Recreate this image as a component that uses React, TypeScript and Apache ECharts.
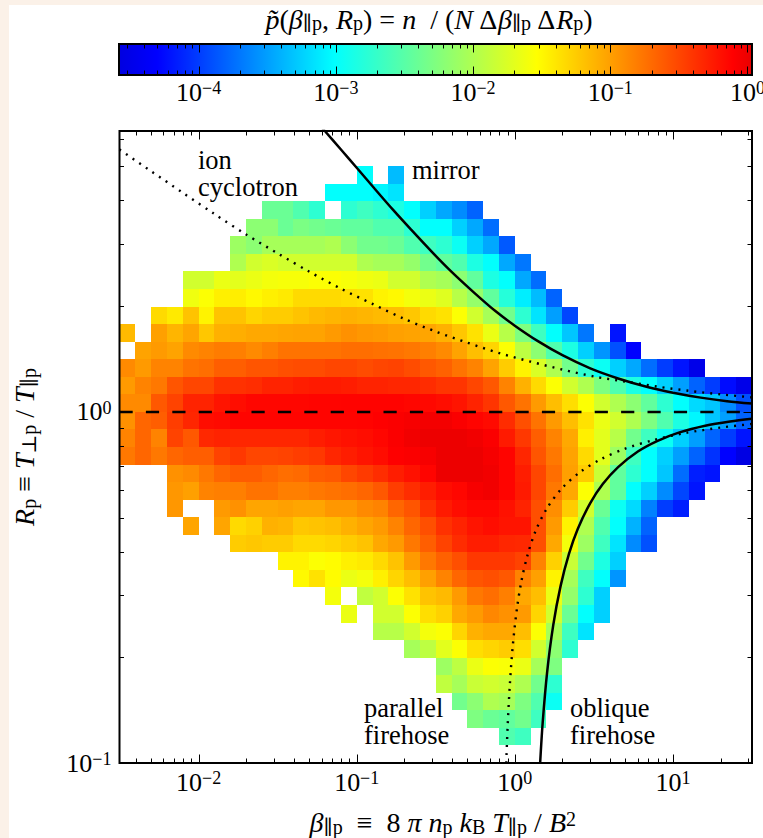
import React, { useEffect, useRef } from "react";
import * as echarts from "echarts";

// Histogram bins: 40 columns of 0.1 dex in beta, 36 rows of 0.05 dex in R (row 0 is the top one)
const betaLogEdgeStart = -2.5;
const betaBinDex = 0.1;
const ratioLogTop = 0.8;
const ratioBinDex = 0.05;
const betaRange = [Math.pow(10, -2.5), Math.pow(10, 1.5)];
const ratioRange = [0.1, Math.pow(10, 0.8)];
const colorbarRange = [Math.pow(10, -4.58), Math.pow(10, 0.033)];

// first occupied row, first occupied column of each row, log10(p) of each cell
const firstRow = 2;
const rowStarts = [15, 13, 9, 8, 7, 7, 4, 4, 2, 0, 1, 0, 0, 0, 0, 0, 0, 3, 3, 3, 4, 7, 10, 11, 13, 14, 16, 18, 20, 20, 21, 22, 24];
const rowValues: (number | null)[][] = [
  [-3.0, null, -3.35],
  [-3.0, -3.0, -3.0, -3.05, -3.15],
  [-2.4, -2.4, -2.55, -2.75, null, -2.75, -2.65, -2.75, -2.85, -3.0, -3.25, -3.45, -3.6, -3.8],
  [-2.2, -2.2, -2.4, -2.3, -2.35, -2.4, -2.45, -2.45, -2.55, -2.55, -2.75, -3.0, -3.0, -3.25, -3.45, -3.75],
  [-2.1, -2.2, -2.05, -2.05, -2.05, -2.05, -2.0, -2.2, -2.35, -2.35, -2.4, -2.55, -2.65, -2.75, -2.95, -3.25, -3.45, -3.85],
  [-2.0, -1.8, -1.75, -1.8, -1.8, -1.8, -1.8, -1.8, -2.0, -2.05, -2.05, -2.15, -2.35, -2.45, -2.55, -2.85, -3.0, -3.45, -3.7],
  [-1.8, -1.8, -1.65, -1.7, -1.65, -1.6, -1.58, -1.58, -1.55, -1.55, -1.58, -1.62, -1.65, -1.8, -1.8, -2.0, -2.05, -2.2, -2.45, -2.85, -3.0, -3.45, -3.75],
  [-1.62, -1.55, -1.45, -1.44, -1.5, -1.45, -1.42, -1.33, -1.33, -1.33, -1.35, -1.37, -1.47, -1.5, -1.6, -1.65, -1.72, -1.95, -2.15, -2.45, -2.8, -3.1, -3.35, -3.8],
  [-1.33, -1.42, -1.2, -1.47, -1.2, -1.2, -1.3, -1.25, -1.25, -1.2, -1.15, -1.12, -1.1, -1.12, -1.15, -1.17, -1.22, -1.33, -1.37, -1.55, -1.8, -2.05, -2.35, -2.75, -3.15, -3.5, -3.95],
  [-1.15, null, -1.0, -1.12, -1.03, -1.22, -1.1, -1.08, -1.05, -1.05, -1.03, -1.02, -1.02, -0.97, -0.92, -0.95, -0.97, -1.0, -1.02, -1.03, -1.1, -1.22, -1.37, -1.65, -1.95, -2.28, -2.65, -3.0, -3.3, -3.7, null, -4.2],
  [-1.02, -0.97, -1.02, -0.88, -0.84, -0.8, -0.82, -0.88, -0.82, -0.75, -0.75, -0.75, -0.75, -0.72, -0.72, -0.74, -0.75, -0.78, -0.82, -0.88, -1.02, -1.17, -1.3, -1.55, -1.92, -2.2, -2.55, -2.85, -3.25, -3.55, -3.9, -4.3],
  [-0.88, -0.97, -0.84, -0.84, -0.75, -0.72, -0.63, -0.63, -0.58, -0.58, -0.55, -0.53, -0.53, -0.5, -0.5, -0.53, -0.5, -0.48, -0.53, -0.6, -0.65, -0.75, -0.84, -1.02, -1.25, -1.47, -1.75, -2.0, -2.35, -2.75, -2.95, -3.25, -3.45, -3.75, -4.0, -4.2, -4.5],
  [-0.97, -0.84, -0.78, -0.58, -0.5, -0.5, -0.38, -0.38, -0.36, -0.3, -0.3, -0.27, -0.25, -0.25, -0.27, -0.3, -0.3, -0.32, -0.32, -0.35, -0.4, -0.4, -0.5, -0.6, -0.84, -1.1, -1.33, -1.55, -1.8, -2.0, -2.28, -2.55, -2.85, -3.0, -3.25, -3.5, -3.8, -4.0, -4.25, -4.5],
  [-0.88, -0.88, -0.6, -0.48, -0.3, -0.3, -0.22, -0.18, -0.14, -0.14, -0.14, -0.14, -0.13, -0.13, -0.12, -0.12, -0.12, -0.12, -0.14, -0.15, -0.18, -0.22, -0.3, -0.4, -0.6, -0.75, -0.97, -1.17, -1.35, -1.55, -1.8, -2.0, -2.2, -2.45, -2.75, -3.0, -3.2, -3.3, -3.6, -3.9],
  [-0.92, -0.68, -0.63, -0.45, -0.32, -0.18, -0.16, -0.13, -0.13, -0.13, -0.13, -0.13, -0.13, -0.13, -0.13, -0.12, -0.1, -0.08, -0.06, -0.04, -0.04, -0.08, -0.13, -0.16, -0.35, -0.55, -0.75, -0.97, -1.17, -1.37, -1.65, -1.8, -2.0, -2.28, -2.55, -2.85, -3.05, -3.3, -3.5, -3.8],
  [-0.84, -0.68, -0.84, -0.48, -0.6, -0.33, -0.3, -0.32, -0.32, -0.32, -0.32, -0.32, -0.27, -0.23, -0.2, -0.18, -0.14, -0.08, -0.03, 0, 0, 0, -0.03, -0.08, -0.25, -0.42, -0.63, -0.84, -1.05, -1.45, -1.7, -1.95, -2.35, -2.65, -2.95, -3.25, -3.5, -3.8, -4.0, -4.2],
  [-0.78, -0.68, -0.78, -0.68, -0.63, -0.63, -0.48, -0.42, -0.5, -0.5, -0.48, -0.45, -0.42, -0.32, -0.27, -0.22, -0.17, -0.1, -0.08, -0.06, 0, 0, 0, -0.05, -0.13, -0.32, -0.58, -0.78, -1.02, -1.33, -1.7, -2.1, -2.65, -3.0, -3.25, -3.5, -3.8, -4.05, -4.3, -4.55],
  [-0.92, -0.88, -0.78, -0.68, -0.62, -0.62, -0.68, -0.72, -0.7, -0.62, -0.6, -0.5, -0.43, -0.36, -0.27, -0.2, -0.13, 0, 0, 0, -0.03, -0.13, -0.27, -0.5, -0.72, -1.0, -1.25, -1.85, -2.45, -2.75, -3.0, -3.3, -3.75, -4.15, -4.2],
  [-0.95, -1.0, -0.84, -0.82, -0.82, -0.75, -0.75, -0.82, -0.82, -0.78, -0.75, -0.72, -0.68, -0.6, -0.45, -0.36, -0.27, -0.18, -0.14, -0.06, -0.03, -0.13, -0.25, -0.5, -0.78, -1.05, -1.55, -2.0, -2.45, -3.0, -3.25, -3.6, -3.95, -4.2],
  [-0.95, null, null, -0.97, -0.92, -1.03, -1.03, -1.0, -1.03, -1.03, -0.95, -0.95, -0.88, -0.84, -0.68, -0.58, -0.38, -0.25, -0.18, -0.14, -0.14, -0.2, -0.3, -0.55, -0.9, -1.25, -1.8, -2.4, -2.95, -3.2, -3.65, -4.0, -4.15],
  [-1.03, null, -1.03, -1.33, -1.28, -1.1, -1.12, -1.22, -1.2, -1.17, -1.1, -1.03, -0.97, -0.84, -0.68, -0.55, -0.38, -0.3, -0.22, -0.18, -0.22, -0.22, -0.55, -0.97, -1.47, -2.0, -2.55, -3.0, -3.4, -3.8],
  [-1.25, -1.22, -1.25, -1.25, -1.33, -1.33, -1.3, -1.25, -1.2, -1.05, -0.97, -0.78, -0.63, -0.48, -0.35, -0.27, -0.27, -0.32, -0.33, -0.55, -1.05, -1.6, -2.1, -2.65, -3.15, -3.6, -3.9],
  [-1.47, -1.47, -1.55, -1.52, -1.45, -1.42, -1.33, -1.2, -0.97, -0.78, -0.65, -0.55, -0.42, -0.42, -0.42, -0.48, -0.84, -1.28, -1.85, -2.35, -2.85, -3.25],
  [-1.5, -1.37, -1.52, -1.65, -1.6, -1.45, -1.3, -1.17, -1.0, -0.84, -0.68, -0.58, -0.55, -0.6, -0.84, -1.0, -1.47, -2.05, -2.65, -3.0, -3.55],
  [-1.6, null, -1.9, -1.8, -1.55, -1.37, -1.2, -1.15, -0.97, -0.78, -0.72, -0.82, -1.05, -1.17, -1.65, -2.15, -2.75, -3.25],
  [-1.65, null, -1.8, -1.8, -1.55, -1.35, -1.28, -1.05, -0.97, -0.86, -0.92, -0.97, -1.3, -1.8, -2.4, -3.0, -3.25],
  [-1.95, -1.95, -1.8, -1.6, -1.55, -1.3, -1.1, -1.05, -1.05, -1.17, -1.55, -2.05, -2.65, -3.15],
  [-2.05, -1.92, -1.7, -1.55, -1.35, -1.3, -1.25, -1.35, -1.8, -2.2, -2.75],
  [-2.1, -1.92, -1.65, -1.55, -1.57, -1.65, -2.05, -2.28],
  [-1.9, -2.05, -1.85, -1.8, -1.85, -2.0, -2.35, -2.75],
  [-2.35, -2.2, -2.0, -2.05, -2.28, -2.55, -2.95],
  [-2.28, -2.4, -2.45, -2.35, -2.65],
  [-2.55, -2.65],
];

// Threshold curves: [beta, R]
const mirrorCurve = [[0.05, 7.1], [0.0631, 6.3], [0.08, 5.57], [0.1, 4.96], [0.13, 4.32], [0.17, 3.76], [0.22, 3.31], [0.3, 2.85], [0.4, 2.5], [0.55, 2.19], [0.75, 1.94], [1, 1.76], [1.4, 1.59], [2, 1.45], [3, 1.33], [4.5, 1.245], [7, 1.175], [10, 1.134], [15, 1.098], [22, 1.073], [31.6, 1.056]];
const cyclotronCurve = [[0.00316, 5.59], [0.005, 4.85], [0.008, 4.2], [0.0126, 3.66], [0.02, 3.2], [0.032, 2.82], [0.05, 2.51], [0.08, 2.24], [0.126, 2.03], [0.2, 1.84], [0.32, 1.69], [0.5, 1.575], [0.8, 1.47], [1.26, 1.39], [2, 1.32], [3.2, 1.26], [5, 1.22], [8, 1.18], [12.6, 1.148], [20, 1.122], [31.6, 1.1]];
const parallelCurve = [[0.883, 0.1], [0.9, 0.126], [0.93, 0.167], [0.97, 0.215], [1.03, 0.274], [1.1, 0.329], [1.2, 0.389], [1.35, 0.457], [1.6, 0.532], [2, 0.608], [2.6, 0.675], [3.5, 0.733], [5, 0.786], [7.5, 0.831], [12, 0.871], [20, 0.902], [31.6, 0.924]];
const obliqueCurve = [[1.446, 0.1], [1.5, 0.13], [1.6, 0.181], [1.75, 0.247], [1.95, 0.32], [2.2, 0.394], [2.5, 0.464], [3, 0.55], [3.6, 0.623], [4.5, 0.696], [6, 0.771], [8, 0.827], [11, 0.874], [16, 0.913], [23, 0.939], [31.6, 0.956]];
const isotropyLine = [[betaRange[0], 1], [betaRange[1], 1]];

// Tick values
const minorMantissas = [2, 3, 4, 5, 6, 7, 8, 9];
const betaDecades = [-3, -2, -1, 0, 1];
const ratioDecades = [-1, 0];
const colorbarDecades = [-5, -4, -3, -2, -1, 0];

// Colour scale: position on the colour bar -> colour
const colorStops: [number, number[]][] = [
  [0, [0, 0, 224]],
  [0.06, [0, 0, 255]],
  [0.34, [0, 255, 255]],
  [0.66, [255, 255, 0]],
  [0.97, [255, 0, 0]],
  [1, [232, 0, 0]],
];

const SERIF = '"Liberation Serif", "DejaVu Serif", serif';
const INK = "#000";

function rgb(c: number[]) {
  return `rgb(${c.map((v) => Math.round(v)).join(",")})`;
}
function colorAt(t: number) {
  const x = Math.min(1, Math.max(0, t));
  for (let i = 1; i < colorStops.length; i++) {
    const [t1, c1] = colorStops[i];
    const [t0, c0] = colorStops[i - 1];
    if (x <= t1) {
      const f = (x - t0) / (t1 - t0);
      return rgb(c0.map((v, k) => v + (c1[k] - v) * f));
    }
  }
  return rgb(colorStops[colorStops.length - 1][1]);
}
const logMin = Math.log10(colorbarRange[0]);
const logMax = Math.log10(colorbarRange[1]);
const colorForLog = (lp: number) => colorAt((lp - logMin) / (logMax - logMin));

function cells() {
  const out: number[][] = [];
  rowValues.forEach((vals, k) => {
    const row = firstRow + k;
    vals.forEach((lp, j) => {
      if (lp === null) return;
      const col = rowStarts[k] + j;
      out.push([
        Math.pow(10, betaLogEdgeStart + col * betaBinDex),
        Math.pow(10, ratioLogTop - (row + 1) * ratioBinDex),
        Math.pow(10, betaLogEdgeStart + (col + 1) * betaBinDex),
        Math.pow(10, ratioLogTop - row * ratioBinDex),
        lp,
      ]);
    });
  });
  return out;
}

function tickValues(decades: number[], lo: number, hi: number) {
  const out: number[][] = [];
  decades.forEach((d) => {
    const major = Math.pow(10, d);
    if (major >= lo && major <= hi) out.push([major, 1]);
    minorMantissas.forEach((m) => {
      const v = m * major;
      if (v >= lo && v <= hi) out.push([v, 0]);
    });
  });
  return out;
}

const texBase = { fontFamily: SERIF, color: INK };
function makeRich(size: number, small: number) {
  return {
    r: { ...texBase, fontSize: size },
    i: { ...texBase, fontSize: size, fontStyle: "italic" },
    sub: { ...texBase, fontSize: small, verticalAlign: "bottom", lineHeight: small, padding: [12, 0, 0, 0] },
    sup: { ...texBase, fontSize: small, verticalAlign: "top", lineHeight: small, padding: [0, 0, 13, 0] },
  };
}
const tickRich = makeRich(26, 18);
const labelRich = makeRich(28, 20);

function powerLabel(v: number) {
  const e = Math.log10(v);
  const n = Math.round(e);
  if (Math.abs(e - n) > 1e-6) return "";
  return `{r|10}{sup|${n < 0 ? "\u2212" + -n : n}}`;
}

function tickSeries(kind: "x" | "y", data: number[][], xAxisIndex: number, yAxisIndex: number, fixed: number, fixedOpposite: number) {
  return {
    type: "custom",
    xAxisIndex,
    yAxisIndex,
    z: 9,
    silent: true,
    data: data.map((d) => (kind === "x" ? [d[0], fixed, d[1]] : [fixed, d[0], d[1]])),
    encode: { x: 0, y: 1 },
    renderItem: (_: any, api: any) => {
      const len = api.value(2) ? 8.5 : 4.5;
      const style = { stroke: INK, lineWidth: 1 };
      if (kind === "x") {
        const a = api.coord([api.value(0), fixed]);
        const b = api.coord([api.value(0), fixedOpposite]);
        const x = Math.round(a[0]) + 0.5;
        return {
          type: "group",
          children: [
            { type: "line", shape: { x1: x, y1: a[1], x2: x, y2: a[1] - len }, style },
            { type: "line", shape: { x1: x, y1: b[1], x2: x, y2: b[1] + len }, style },
          ],
        };
      }
      const a = api.coord([fixed, api.value(1)]);
      const b = api.coord([fixedOpposite, api.value(1)]);
      const y = Math.round(a[1]) + 0.5;
      return {
        type: "group",
        children: [
          { type: "line", shape: { x1: a[0], y1: y, x2: a[0] + len, y2: y }, style },
          { type: "line", shape: { x1: b[0], y1: y, x2: b[0] - len, y2: y }, style },
        ],
      };
    },
  };
}

function frameSeries(corners: number[], xAxisIndex: number, yAxisIndex: number) {
  return {
    type: "custom",
    xAxisIndex,
    yAxisIndex,
    z: 10,
    silent: true,
    data: [corners],
    encode: { x: [0, 2], y: [1, 3] },
    renderItem: (_: any, api: any) => {
      const a = api.coord([api.value(0), api.value(1)]);
      const b = api.coord([api.value(2), api.value(3)]);
      return {
        type: "rect",
        shape: { x: a[0], y: b[1], width: b[0] - a[0], height: a[1] - b[1] },
        style: { fill: "none", stroke: INK, lineWidth: 2 },
      };
    },
  };
}

function curve(name: string, data: number[][], lineStyle: any) {
  return {
    name,
    type: "line",
    xAxisIndex: 0,
    yAxisIndex: 0,
    z: 8,
    data,
    showSymbol: false,
    symbol: "none",
    smooth: 0.3,
    silent: true,
    lineStyle: { color: INK, width: 2.5, ...lineStyle },
  };
}

function annotation(text: string, x: number, y: number) {
  return {
    type: "text",
    x,
    y,
    z: 12,
    silent: true,
    style: { text, fontFamily: SERIF, fontSize: 26.5, lineHeight: 27, fill: INK },
  };
}

const option: any = {
  animation: false,
  backgroundColor: "transparent",
  title: {
    text: "{i|p\u0303}{r|(}{i|\u03b2}{sub|\u2225p}{r|, }{i|R}{sub|p}{r|) = }{i|n}{r|  / (}{i|N}{r| \u0394}{i|\u03b2}{sub|\u2225p}{r| \u0394}{i|R}{sub|p}{r|)}",
    left: 424,
    top: 0,
    textAlign: "center",
    textStyle: { rich: labelRich, fontFamily: SERIF, fontSize: 28, fontWeight: "normal" },
  },
  grid: [
    { left: 119.5, top: 131, width: 632.5, height: 632, containLabel: false, outerBoundsMode: "none" },
    { left: 119, top: 44, width: 633, height: 31, containLabel: false, outerBoundsMode: "none" },
  ],
  xAxis: [
    {
      type: "log",
      gridIndex: 0,
      min: betaRange[0],
      max: betaRange[1],
      logBase: 10,
      axisLine: { show: false },
      axisTick: { show: false },
      splitLine: { show: false },
      axisLabel: { formatter: powerLabel, rich: tickRich, margin: 6, showMinLabel: true, showMaxLabel: true, hideOverlap: false },
      name: "{i|\u03b2}{sub|\u2225p}{r|  \u2261  8 }{i|\u03c0}{r| }{i|n}{sub|p}{r| }{i|k}{sub|B}{r| }{i|T}{sub|\u2225p}{r| / }{i|B}{sup|2}",
      nameLocation: "middle",
      nameGap: 40,
      nameTextStyle: { rich: labelRich, fontFamily: SERIF, fontSize: 28, padding: [0, 0, 0, 14] },
    },
    {
      type: "log",
      gridIndex: 1,
      min: colorbarRange[0],
      max: colorbarRange[1],
      logBase: 10,
      axisLine: { show: false },
      axisTick: { show: false },
      splitLine: { show: false },
      axisLabel: { formatter: powerLabel, rich: tickRich, margin: 4, showMinLabel: true, showMaxLabel: true, hideOverlap: false },
    },
  ],
  yAxis: [
    {
      type: "log",
      gridIndex: 0,
      min: ratioRange[0],
      max: ratioRange[1],
      logBase: 10,
      axisLine: { show: false },
      axisTick: { show: false },
      splitLine: { show: false },
      axisLabel: { formatter: powerLabel, rich: tickRich, margin: 8, showMinLabel: true, showMaxLabel: true, hideOverlap: false },
      name: "{i|R}{sub|p}{r| \u2261 }{i|T}{sub|\u22a5p}{r| / }{i|T}{sub|\u2225p}",
      nameLocation: "middle",
      nameRotate: 90,
      nameGap: 81,
      nameTextStyle: { rich: labelRich, fontFamily: SERIF, fontSize: 28 },
    },
    { type: "value", gridIndex: 1, min: 0, max: 1, show: false },
  ],
  graphic: [
    annotation("ion\ncyclotron", 198, 146),
    annotation("mirror", 412, 156),
    annotation("parallel\nfirehose", 364, 694),
    annotation("oblique\nfirehose", 570, 694),
  ],
  series: [
    {
      name: "p",
      type: "custom",
      xAxisIndex: 0,
      yAxisIndex: 0,
      z: 2,
      silent: true,
      data: cells(),
      encode: { x: [0, 2], y: [1, 3] },
      renderItem: (_: any, api: any) => {
        const a = api.coord([api.value(0), api.value(1)]);
        const b = api.coord([api.value(2), api.value(3)]);
        const x0 = Math.round(a[0]);
        const x1 = Math.round(b[0]);
        const y0 = Math.round(b[1]);
        const y1 = Math.round(a[1]);
        return {
          type: "rect",
          shape: { x: x0, y: y0, width: x1 - x0, height: y1 - y0 },
          style: { fill: colorForLog(api.value(4)) },
        };
      },
    },
    {
      name: "colour bar",
      type: "custom",
      xAxisIndex: 1,
      yAxisIndex: 1,
      z: 2,
      silent: true,
      data: [[colorbarRange[0], 0, colorbarRange[1], 1]],
      encode: { x: [0, 2], y: [1, 3] },
      renderItem: (_: any, api: any) => {
        const a = api.coord([api.value(0), api.value(1)]);
        const b = api.coord([api.value(2), api.value(3)]);
        return {
          type: "rect",
          shape: { x: a[0], y: b[1], width: b[0] - a[0], height: a[1] - b[1] },
          style: {
            fill: new echarts.graphic.LinearGradient(
              0, 0, 1, 0,
              colorStops.map(([offset, c]) => ({ offset, color: rgb(c) }))
            ),
          },
        };
      },
    },
    curve("mirror", mirrorCurve, {}),
    curve("ion cyclotron", cyclotronCurve, { type: [2, 6], width: 2.4 }),
    curve("parallel firehose", parallelCurve, { type: [2, 6], width: 2.4 }),
    curve("oblique firehose", obliqueCurve, {}),
    { ...curve("isotropy", isotropyLine, { type: [13.2, 13.2] }), smooth: false },
    tickSeries("x", tickValues(betaDecades, betaRange[0], betaRange[1]), 0, 0, ratioRange[0], ratioRange[1]),
    tickSeries("y", tickValues(ratioDecades, ratioRange[0], ratioRange[1]), 0, 0, betaRange[0], betaRange[1]),
    tickSeries("x", tickValues(colorbarDecades, colorbarRange[0], colorbarRange[1]), 1, 1, 0, 1),
    frameSeries([betaRange[0], ratioRange[0], betaRange[1], ratioRange[1]], 0, 0),
    frameSeries([colorbarRange[0], 0, colorbarRange[1], 1], 1, 1),
  ],
};

export default function App() {
  const ref = useRef<HTMLDivElement>(null);
  useEffect(() => {
    document.body.style.margin = "0";
    document.body.style.background = "#FBF1E8";
    document.body.style.overflow = "hidden";
    const chart = echarts.init(ref.current!, null, { renderer: "svg" });
    chart.setOption(option);
    return () => chart.dispose();
  }, []);
  return (
    <div style={{ position: "relative", width: 763, height: 838, overflow: "hidden" }}>
      <div style={{ position: "absolute", left: 9, top: 5, right: 0, bottom: 0, background: "#fff" }} />
      <div ref={ref} style={{ position: "absolute", left: 0, top: 0, width: 763, height: 838 }} />
    </div>
  );
}
